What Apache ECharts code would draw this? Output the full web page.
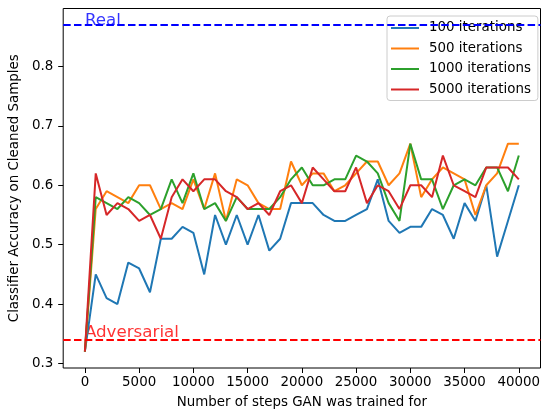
<!DOCTYPE html>
<html>
<head>
<meta charset="utf-8">
<script src="https://cdn.jsdelivr.net/npm/echarts@6/dist/echarts.min.js"></script>
<style>
  html, body { margin: 0; padding: 0; background: #fff; }
  #chart { width: 543px; height: 414px; }
</style>
</head>
<body>
<div id="chart"></div>
<script>
const steps = [0, 1000, 2000, 3000, 4000, 5000, 6000, 7000, 8000, 9000, 10000,
  11000, 12000, 13000, 14000, 15000, 16000, 17000, 18000, 19000, 20000,
  21000, 22000, 23000, 24000, 25000, 26000, 27000, 28000, 29000, 30000,
  31000, 32000, 33000, 34000, 35000, 36000, 37000, 38000, 39000, 40000];

const it100 = [0.32, 0.45, 0.41, 0.40, 0.47, 0.46, 0.42, 0.51, 0.51, 0.53, 0.52,
  0.45, 0.55, 0.50, 0.55, 0.50, 0.55, 0.49, 0.51, 0.57, 0.57,
  0.57, 0.55, 0.54, 0.54, 0.55, 0.56, 0.61, 0.54, 0.52, 0.53,
  0.53, 0.56, 0.55, 0.51, 0.57, 0.54, 0.60, 0.48, 0.54, 0.60];
const it500 = [0.32, 0.56, 0.59, 0.58, 0.57, 0.60, 0.60, 0.56, 0.57, 0.56, 0.61,
  0.56, 0.62, 0.54, 0.61, 0.60, 0.57, 0.56, 0.56, 0.64, 0.60,
  0.62, 0.62, 0.59, 0.60, 0.62, 0.64, 0.64, 0.60, 0.62, 0.67,
  0.58, 0.61, 0.63, 0.62, 0.61, 0.55, 0.60, 0.62, 0.67, 0.67];
const it1000 = [0.32, 0.58, 0.57, 0.56, 0.58, 0.57, 0.55, 0.56, 0.61, 0.57, 0.62,
  0.56, 0.57, 0.54, 0.58, 0.56, 0.56, 0.56, 0.58, 0.61, 0.63,
  0.60, 0.60, 0.61, 0.61, 0.65, 0.64, 0.62, 0.57, 0.54, 0.67,
  0.61, 0.61, 0.56, 0.60, 0.61, 0.60, 0.63, 0.63, 0.59, 0.65];
const it5000 = [0.32, 0.62, 0.55, 0.57, 0.56, 0.54, 0.55, 0.51, 0.58, 0.61, 0.59,
  0.61, 0.61, 0.59, 0.58, 0.56, 0.57, 0.55, 0.59, 0.60, 0.57,
  0.63, 0.61, 0.59, 0.59, 0.63, 0.57, 0.60, 0.59, 0.56, 0.60,
  0.60, 0.58, 0.65, 0.60, 0.59, 0.58, 0.63, 0.63, 0.63, 0.61];

const realLevel = 0.87;
const adversarialLevel = 0.34;

const xTicks = [0, 5000, 10000, 15000, 20000, 25000, 30000, 35000, 40000];
const yTicks = [0.3, 0.4, 0.5, 0.6, 0.7, 0.8];

const seriesNames = ["100 iterations", "500 iterations", "1000 iterations", "5000 iterations"];
const seriesValues = [it100, it500, it1000, it5000];
const colors = ["#1f77b4", "#ff7f0e", "#2ca02c", "#d62728"];

const font = "DejaVu Sans";
const myChart = echarts.init(document.getElementById("chart"));

const lines = seriesNames.map((name, i) => ({
  name: name,
  type: "line",
  symbol: "none",
  color: colors[i],
  lineStyle: { width: 2, color: colors[i] },
  data: steps.map((s, j) => [s, seriesValues[i][j]]),
  z: 3,
}));

// dashed reference line plus its text label
function levelSeries(name, level, color, dy) {
  return {
    name: name,
    type: "scatter",
    symbolSize: 0.01,
    silent: true,
    data: [[0, level]],
    label: {
      show: true,
      formatter: name,
      position: [0, 0],
      align: "left",
      verticalAlign: "bottom",
      offset: [0, dy],
      color: color,
      fontFamily: font,
      fontSize: 16.7,
    },
    markLine: {
      silent: true,
      symbol: "none",
      label: { show: false },
      lineStyle: { color: color, width: 2, opacity: 1, type: [7.5, 3.3] },
      data: [{ yAxis: level }],
    },
    z: 2,
  };
}

const option = {
  animation: false,
  backgroundColor: "#fff",
  grid: {
    left: 60.7,
    right: -1.7,
    top: 8.5,
    bottom: 44,
    show: true,
    borderColor: "#000",
    borderWidth: 1,
    backgroundColor: "transparent",
  },
  legend: {
    data: seriesNames,
    orient: "vertical",
    left: 387,
    top: 16,
    icon: "rect",
    itemWidth: 28,
    itemHeight: 2,
    itemGap: 6.5,
    padding: [5, 7, 4, 4],
    backgroundColor: "rgba(255,255,255,0.8)",
    borderColor: "#cccccc",
    borderWidth: 1,
    borderRadius: 3,
    textStyle: {
      fontFamily: font, fontSize: 13.4, lineHeight: 14, color: "#000",
      padding: [0, 0, 0, 5],
    },
  },
  xAxis: {
    type: "value",
    min: -2000,
    max: 42000,
    name: "Number of steps GAN was trained for",
    nameLocation: "middle",
    nameGap: 28,
    nameTextStyle: { fontFamily: font, fontSize: 13.4, color: "#000" },
    axisLine: { show: false, onZero: false },
    splitLine: { show: false },
    axisTick: { show: true, inside: false, length: 5, lineStyle: { color: "#000" }, customValues: xTicks },
    axisLabel: {
      fontFamily: font, fontSize: 13.4, color: "#000", margin: 8,
      customValues: xTicks,
      formatter: (v) => String(v),
    },
  },
  yAxis: {
    type: "value",
    min: 0.2925,
    max: 0.8975,
    name: "Classifier Accuracy on Cleaned Samples",
    nameLocation: "middle",
    nameGap: 37,
    nameTextStyle: { fontFamily: font, fontSize: 13.4, color: "#000" },
    axisLine: { show: false, onZero: false },
    splitLine: { show: false },
    axisTick: { show: true, inside: false, length: 5, lineStyle: { color: "#000" }, customValues: yTicks },
    axisLabel: {
      fontFamily: font, fontSize: 13.4, color: "#000", margin: 10,
      customValues: yTicks,
      formatter: (v) => v.toFixed(1),
    },
  },
  series: [
    levelSeries("Real", realLevel, "#0000ff", 4),
    levelSeries("Adversarial", adversarialLevel, "#ff0000", 1),
    ...lines,
  ],
};

option && myChart.setOption(option);
</script>
</body>
</html>
